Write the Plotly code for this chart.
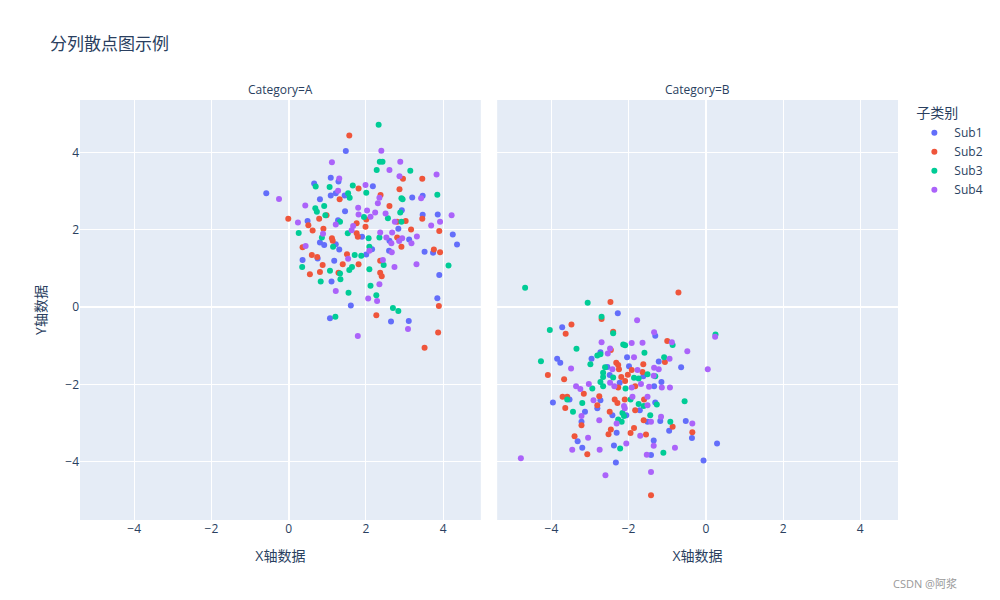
import pandas as pd
import plotly.express as px

CATEGORIES = ["A", "B"]
SUBS = ["Sub1", "Sub2", "Sub3", "Sub4"]
COLORS = ["#636efa", "#EF553B", "#00cc96", "#ab63fa"]

A_SUB1 = [(-0.58,2.95),(0.66,3.20),(0.81,2.79),(0.49,2.23),(1.48,4.04),(1.09,3.35),(1.29,3.25),(2.18,3.13),
          (1.22,2.95),(1.09,2.89),(1.45,2.89),(1.46,2.48),(1.28,2.25),(1.90,1.82),(3.20,2.84),(3.47,2.88),
          (2.93,2.51),(3.47,2.39),(3.86,2.40),(2.84,2.03),(4.25,1.88),(3.12,1.75),(0.81,1.67),(0.92,1.61),
          (0.75,1.26),(0.36,1.22),(1.22,1.63),(1.31,1.49),(2.01,1.36),(2.16,1.50),(2.61,1.72),(2.60,1.46),
          (1.18,1.20),(1.11,0.66),(1.61,0.04),(1.07,-0.29),(2.65,-0.37),(3.52,1.43),(3.74,1.41),(4.36,1.62),
          (3.90,0.83),(3.85,0.23),(3.11,-0.36)]
A_SUB2 = [(-0.01,2.29),(0.51,2.12),(0.79,2.29),(0.62,1.98),(0.90,2.03),(1.57,4.44),(1.81,3.07),(1.32,2.79),
          (2.38,2.90),(2.61,2.62),(0.98,2.38),(2.01,2.27),(1.76,2.17),(1.99,2.08),(1.76,1.91),(1.79,1.82),
          (1.12,1.78),(2.96,3.32),(3.46,3.32),(2.87,3.05),(3.46,2.29),(3.03,2.23),(2.81,2.21),(3.17,2.01),
          (3.90,1.97),(2.81,1.80),(0.36,1.55),(0.60,1.35),(0.74,1.30),(0.88,1.09),(0.55,0.85),(0.81,0.91),
          (1.14,1.72),(1.51,1.37),(2.37,1.20),(1.40,1.11),(1.81,1.11),(1.29,0.89),(2.37,0.89),(2.41,0.80),
          (2.27,-0.21),(2.92,1.56),(3.76,1.49),(3.92,1.42),(3.89,0.03),(3.87,-0.66),(3.52,-1.05)]
A_SUB3 = [(0.70,3.12),(0.69,2.56),(0.73,2.47),(0.92,2.62),(0.95,2.38),(0.26,1.92),(0.86,1.80),(2.33,4.72),
          (2.36,3.76),(2.43,3.76),(2.28,3.55),(1.06,3.11),(1.66,3.15),(2.01,2.96),(1.54,2.95),(1.58,2.83),
          (2.57,2.30),(1.95,2.33),(1.33,2.21),(1.53,1.91),(2.07,1.78),(2.35,1.80),(3.15,3.53),(2.92,2.82),
          (2.95,2.79),(3.85,2.91),(2.89,2.45),(2.92,2.21),(0.35,1.04),(0.83,0.66),(1.15,1.56),(1.71,1.35),
          (1.88,1.33),(2.09,1.56),(2.46,1.09),(1.64,1.04),(1.57,0.96),(1.07,0.94),(1.33,0.87),(1.34,0.72),
          (2.09,0.98),(2.12,0.55),(1.55,0.37),(2.27,0.31),(1.21,-0.25),(2.70,-0.02),(2.84,-0.10),(4.14,1.08)]
A_SUB4 = [(-0.25,2.80),(0.43,2.63),(0.24,2.19),(0.89,1.90),(2.40,4.05),(1.12,3.75),(2.61,3.55),(1.31,3.33),
          (1.99,3.16),(1.28,3.01),(2.35,2.83),(2.31,2.69),(1.80,2.57),(2.03,2.50),(2.24,2.45),(1.81,2.40),
          (2.51,2.42),(2.12,2.34),(1.22,2.14),(1.67,2.10),(1.63,1.99),(2.75,2.21),(2.37,1.93),(2.68,1.93),
          (2.53,1.80),(2.89,3.76),(2.87,3.39),(3.83,3.43),(3.43,2.82),(4.22,2.38),(3.69,2.11),(3.92,2.21),
          (3.32,1.83),(2.94,1.78),(0.44,1.58),(1.54,1.25),(2.09,1.46),(2.66,1.65),(2.67,1.42),(2.44,1.22),
          (2.74,1.04),(1.22,0.42),(2.35,0.59),(2.06,0.22),(2.29,0.16),(1.79,-0.75),(3.18,1.65),(2.86,1.71),
          (3.31,1.11),(3.09,-0.57)]

B_SUB1 = [(-3.72,-0.52),(-3.85,-1.34),(-3.77,-1.44),(-2.28,-0.16),(-2.73,-1.17),(-2.96,-1.34),(-2.04,-1.30),
          (-2.55,-1.55),(-1.99,-1.53),(-2.49,-1.76),(-1.62,-1.79),(-2.23,-1.96),(-1.31,-0.74),(-1.22,-1.41),
          (-0.64,-1.56),(-1.15,-1.94),(-1.34,-2.05),(-3.96,-2.47),(-3.53,-2.39),(-3.22,-2.97),(-3.32,-3.47),
          (-3.20,-3.64),(-2.81,-2.62),(-2.73,-2.41),(-3.13,-2.71),(-2.42,-2.80),(-2.06,-2.80),(-1.71,-2.67),
          (-1.51,-2.97),(-2.31,-3.25),(-2.38,-3.58),(-1.42,-3.83),(-2.33,-4.02),(-1.31,-2.47),(-1.18,-2.95),
          (-0.95,-3.20),(-0.52,-2.95),(-0.36,-3.39),(-1.35,-3.45),(0.29,-3.53),(-0.06,-3.97)]
B_SUB2 = [(-3.48,-0.45),(-3.63,-0.69),(-4.09,-1.76),(-3.67,-1.87),(-2.47,0.13),(-2.70,-0.31),(-2.40,-0.64),
          (-2.46,-1.11),(-2.32,-1.44),(-2.27,-1.50),(-2.25,-1.61),(-1.92,-1.63),(-1.62,-1.48),(-1.64,-1.68),
          (-2.19,-1.81),(-2.02,-1.75),(-2.09,-1.91),(-2.27,-2.08),(-1.83,-2.05),(-0.71,0.38),(-1.00,-0.88),
          (-1.06,-1.42),(-3.71,-2.32),(-3.59,-2.32),(-3.64,-2.61),(-3.22,-3.06),(-3.40,-3.34),(-3.16,-2.24),
          (-2.76,-2.31),(-2.81,-2.54),(-2.49,-2.71),(-2.36,-2.39),(-2.29,-2.48),(-2.10,-2.39),(-1.60,-2.39),
          (-1.83,-2.67),(-1.61,-2.93),(-2.46,-3.17),(-2.52,-3.29),(-1.86,-3.13),(-1.95,-3.26),(-1.55,-3.30),
          (-3.07,-3.81),(-1.42,-4.87),(-0.86,-3.10),(-0.35,-3.24)]
B_SUB3 = [(-4.68,0.50),(-4.04,-0.59),(-3.35,-1.08),(-4.27,-1.40),(-3.06,0.11),(-2.70,-0.25),(-2.40,-0.68),
          (-2.14,-0.97),(-2.09,-0.99),(-2.81,-1.25),(-2.73,-1.22),(-1.59,-1.18),(-2.99,-1.48),(-2.61,-1.56),
          (-1.51,-1.74),(-2.66,-1.70),(-2.66,-1.81),(-2.40,-1.82),(-1.86,-1.83),(-1.74,-1.85),(-2.73,-1.94),
          (-2.66,-2.05),(-2.94,-2.11),(-2.08,-2.11),(0.25,-0.71),(-0.86,-0.98),(-1.08,-1.30),(-1.31,-1.79),
          (-3.59,-2.39),(-3.44,-2.71),(-3.20,-2.48),(-2.16,-2.74),(-2.12,-2.82),(-2.18,-2.97),(-2.27,-2.91),
          (-1.95,-2.39),(-1.74,-2.51),(-1.61,-2.56),(-1.44,-2.80),(-2.22,-3.66),(-1.27,-2.52),(-0.55,-2.44),
          (-0.92,-2.97),(-1.10,-3.77)]
B_SUB4 = [(-3.49,-1.59),(-3.36,-2.05),(-3.25,-2.12),(-1.78,-0.34),(-2.70,-0.91),(-1.92,-0.93),(-1.64,-0.92),
          (-2.48,-1.07),(-2.54,-1.20),(-1.86,-1.30),(-2.42,-1.61),(-1.77,-1.63),(-1.68,-1.99),(-3.03,-1.99),
          (-2.48,-1.96),(-2.37,-2.05),(-1.92,-2.08),(-1.47,-2.06),(-1.34,-0.65),(0.24,-0.77),(-0.88,-0.91),
          (-0.48,-1.14),(-0.94,-1.34),(0.05,-1.61),(-1.34,-1.57),(-1.22,-1.61),(-1.35,-1.78),(-1.14,-2.08),
          (-0.93,-2.08),(-3.22,-2.82),(-3.46,-3.69),(-4.79,-3.91),(-2.91,-2.41),(-2.12,-2.56),(-2.10,-2.62),
          (-2.31,-3.01),(-1.90,-2.32),(-1.51,-2.32),(-1.51,-2.54),(-1.42,-2.97),(-2.76,-2.93),(-1.70,-3.33),
          (-3.05,-3.38),(-2.06,-3.53),(-2.75,-3.69),(-1.53,-3.82),(-2.60,-4.35),(-1.42,-4.27),(-1.16,-2.84),
          (-0.35,-3.01),(-1.35,-3.59),(-0.80,-3.64)]

GROUPS = {
    ("A", "Sub1"): A_SUB1, ("A", "Sub2"): A_SUB2, ("A", "Sub3"): A_SUB3, ("A", "Sub4"): A_SUB4,
    ("B", "Sub1"): B_SUB1, ("B", "Sub2"): B_SUB2, ("B", "Sub3"): B_SUB3, ("B", "Sub4"): B_SUB4,
}

rows = []
for sub in SUBS:
    for cat in CATEGORIES:
        for x, y in GROUPS[(cat, sub)]:
            rows.append({"x": x, "y": y, "Category": cat, "sub": sub})
df = pd.DataFrame(rows)

fig = px.scatter(
    df, x="x", y="y", color="sub", facet_col="Category",
    category_orders={"Category": CATEGORIES, "sub": SUBS},
    color_discrete_sequence=COLORS,
    labels={"x": "X轴数据", "y": "Y轴数据", "sub": "子类别"},
    title="分列散点图示例",
    facet_col_spacing=0.02,
)
fig.update_layout(
    width=1000, height=600,
    font=dict(family="Open Sans, Noto Sans CJK SC, sans-serif"),
)
fig.add_annotation(
    text="CSDN @阿浆", xref="paper", yref="paper", x=1.075, y=-0.15,
    xanchor="right", yanchor="middle", showarrow=False,
    font=dict(size=11, color="#999999"),
)
fig.write_html("out.html")
